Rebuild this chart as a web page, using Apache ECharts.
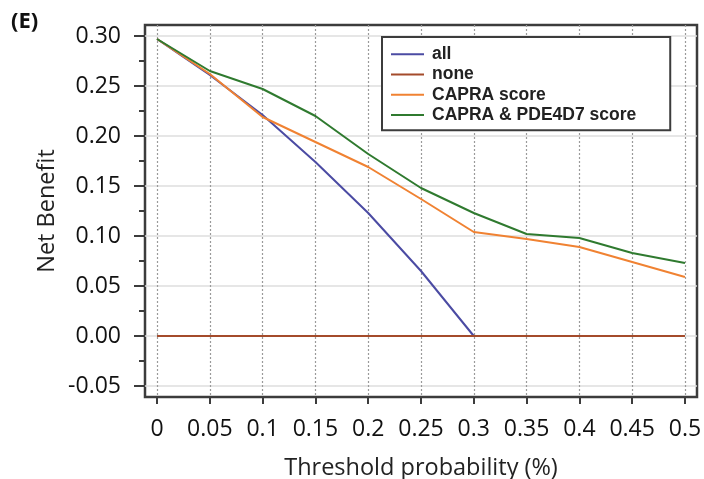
<!DOCTYPE html>
<html>
<head>
<meta charset="utf-8">
<script src="https://cdn.jsdelivr.net/npm/echarts@6/dist/echarts.min.js"></script>
<style>html,body{margin:0;padding:0;background:#fff}#c{width:704px;height:479px}</style>
</head>
<body>
<div id="c"></div>
<script>
const xValues = [0, 0.05, 0.1, 0.15, 0.2, 0.25, 0.3, 0.35, 0.4, 0.45, 0.5];
const xTickLabels = ['0', '0.05', '0.1', '0.15', '0.2', '0.25', '0.3', '0.35', '0.4', '0.45', '0.5'];
const yTickValues = [-0.05, 0, 0.05, 0.1, 0.15, 0.2, 0.25, 0.3];
const yTickLabels = ['-0.05', '0.00', '0.05', '0.10', '0.15', '0.20', '0.25', '0.30'];
const yMinorTicks = [-0.05, -0.025, 0, 0.025, 0.05, 0.075, 0.1, 0.125, 0.15, 0.175, 0.2, 0.225, 0.25, 0.275, 0.3];
const seriesNames = ['all', 'none', 'CAPRA score', 'CAPRA & PDE4D7 score'];
const allValues = [0.297, 0.261, 0.221, 0.174, 0.123, 0.065, 0.0];
const noneValues = [0, 0, 0, 0, 0, 0, 0, 0, 0, 0, 0];
const capraValues = [0.297, 0.262, 0.219, 0.194, 0.169, 0.137, 0.104, 0.097, 0.089, 0.074, 0.059];
const capraPdeValues = [0.297, 0.265, 0.247, 0.220, 0.182, 0.148, 0.123, 0.102, 0.098, 0.083, 0.073];
const colors = ['#4b4ba3', '#a44b2b', '#f08232', '#2f7a2f'];

const pairs = vals => vals.map((v, i) => [xValues[i], v]);
const font = "'Open Sans', sans-serif";

const chart = echarts.init(document.getElementById('c'), null, {renderer: 'canvas'});
chart.setOption({
  animation: false,
  backgroundColor: '#fff',
  title: {
    text: '(E)', left: 6, top: 6,
    textStyle: {fontFamily: font, fontWeight: 'bold', fontSize: 22, color: '#111'}
  },
  grid: {
    left: 145, right: 7, top: 25, bottom: 82,
    outerBoundsMode: 'none', containLabel: false,
    show: true, borderColor: '#3c3c3c', borderWidth: 2.5, backgroundColor: 'transparent'
  },
  legend: {
    data: seriesNames,
    orient: 'vertical',
    left: 382, top: 37,
    padding: [8, 34, 6, 9],
    icon: 'rect',
    itemWidth: 33, itemHeight: 2, itemGap: 2,
    backgroundColor: '#fff',
    borderColor: '#3c3c3c', borderWidth: 2,
    borderRadius: 0,
    textStyle: {fontFamily: "'Liberation Sans', Arial, sans-serif", fontWeight: 'bold', fontSize: 17.5, lineHeight: 18.3, color: '#222', padding: [0, 0, 0, 3]},
    z: 10
  },
  xAxis: {
    type: 'value', min: -0.0114, max: 0.5114,
    name: 'Threshold probability (%)', nameLocation: 'middle', nameGap: 59, nameMoveOverlap: false,
    nameTextStyle: {fontFamily: font, fontSize: 23.5, color: '#222'},
    axisLine: {show: false, onZero: false},
    axisTick: {show: true, length: 7, customValues: xValues, lineStyle: {color: '#3c3c3c', width: 2}},
    axisLabel: {
      customValues: xValues, margin: 21,
      fontFamily: font, fontSize: 23, color: '#111',
      formatter: v => { const i = xValues.findIndex(x => Math.abs(x - v) < 1e-6); return i >= 0 ? xTickLabels[i] : ''; }
    },
    splitLine: {show: true, lineStyle: {type: [2, 2], color: '#9a9a9a', width: 1.2}}
  },
  yAxis: [{
    type: 'value', position: 'left', min: -0.061, max: 0.311,
    name: 'Net Benefit', nameLocation: 'middle', nameGap: 86, nameMoveOverlap: false,
    nameTextStyle: {fontFamily: font, fontSize: 23.5, color: '#222'},
    axisLine: {show: false, onZero: false},
    axisTick: {show: true, length: 11, customValues: yTickValues, lineStyle: {color: '#3c3c3c', width: 2}},
    axisLabel: {
      customValues: yTickValues, margin: 24,
      fontFamily: font, fontSize: 23, color: '#111',
      formatter: v => { const i = yTickValues.findIndex(x => Math.abs(x - v) < 1e-6); return i >= 0 ? yTickLabels[i] : ''; }
    },
    splitLine: {show: true, lineStyle: {type: 'solid', color: '#dedede', width: 1.5}}
  }, {
    type: 'value', position: 'left', min: -0.061, max: 0.311,
    axisLine: {show: false, onZero: false},
    axisTick: {show: true, length: 6, customValues: yMinorTicks, lineStyle: {color: '#3c3c3c', width: 2}},
    axisLabel: {show: false},
    splitLine: {show: false}
  }],
  series: [
    {name: seriesNames[0], type: 'line', data: pairs(allValues), symbol: 'none', lineStyle: {color: colors[0], width: 2}, itemStyle: {color: colors[0]}, z: 3},
    {name: seriesNames[1], type: 'line', data: pairs(noneValues), symbol: 'none', lineStyle: {color: colors[1], width: 2}, itemStyle: {color: colors[1]}, z: 4},
    {name: seriesNames[2], type: 'line', data: pairs(capraValues), symbol: 'none', lineStyle: {color: colors[2], width: 2}, itemStyle: {color: colors[2]}, z: 5},
    {name: seriesNames[3], type: 'line', data: pairs(capraPdeValues), symbol: 'none', lineStyle: {color: colors[3], width: 2}, itemStyle: {color: colors[3]}, z: 6}
  ]
});
</script>
</body>
</html>
